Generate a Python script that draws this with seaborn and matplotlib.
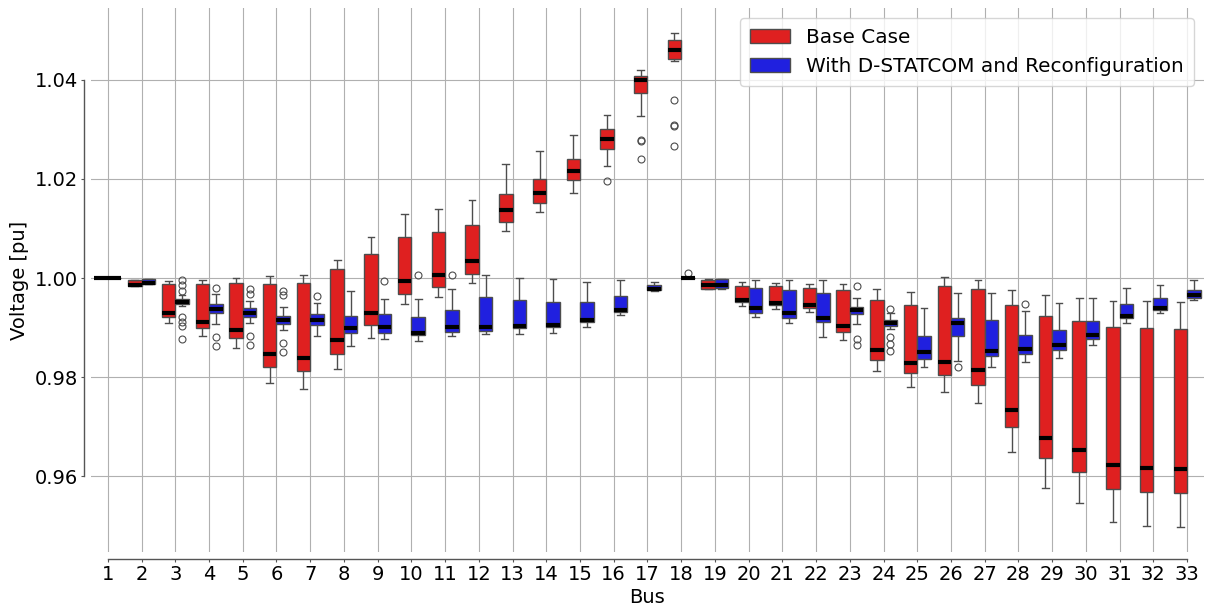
import numpy as np
import pandas as pd
import matplotlib
matplotlib.use("Agg")
import matplotlib.pyplot as plt
import seaborn as sns

buses = [str(b) for b in range(1, 34)]
cases = ["Base Case", "With D-STATCOM and Reconfiguration"]

# Five-number summaries per bus: lower whisker, Q1, median, Q3, upper whisker
base_lo = [1.0, 0.9983, 0.9909, 0.9883, 0.9859, 0.9788, 0.9777, 0.9816, 0.9878, 0.9947, 0.9961,
           0.9990, 1.0095, 1.0133, 1.0171, 1.0226, 1.0326, 1.0437, 0.9977, 0.9944, 0.9937, 0.9932,
           0.9875, 0.9813, 0.9781, 0.9771, 0.9748, 0.9648, 0.9576, 0.9545, 0.9507, 0.9499, 0.9497]
base_q1 = [1.0, 0.9983, 0.9921, 0.9899, 0.9879, 0.9820, 0.9812, 0.9847, 0.9905, 0.9968, 0.9981,
           1.0009, 1.0113, 1.0152, 1.0198, 1.0261, 1.0373, 1.0442, 0.9978, 0.9951, 0.9945, 0.9939,
           0.9891, 0.9835, 0.9808, 0.9804, 0.9785, 0.9699, 0.9636, 0.9608, 0.9575, 0.9569, 0.9566]
base_med = [1.0, 0.9986, 0.9930, 0.9912, 0.9896, 0.9846, 0.9838, 0.9874, 0.9930, 0.9994, 1.0007,
            1.0034, 1.0137, 1.0172, 1.0215, 1.0280, 1.0400, 1.0460, 0.9985, 0.9955, 0.9950, 0.9945,
            0.9903, 0.9854, 0.9829, 0.9831, 0.9814, 0.9734, 0.9678, 0.9652, 0.9623, 0.9616, 0.9614]
base_q3 = [1.0, 0.9997, 0.9987, 0.9987, 0.9990, 0.9988, 0.9990, 1.0019, 1.0048, 1.0083, 1.0093,
           1.0107, 1.0169, 1.0200, 1.0241, 1.0301, 1.0407, 1.0480, 0.9996, 0.9984, 0.9983, 0.9980,
           0.9975, 0.9955, 0.9946, 0.9984, 0.9977, 0.9946, 0.9923, 0.9914, 0.9901, 0.9899, 0.9897]
base_hi = [1.0, 0.9997, 0.9994, 0.9996, 1.0000, 1.0005, 1.0007, 1.0037, 1.0083, 1.0130, 1.0139,
           1.0158, 1.0230, 1.0256, 1.0288, 1.0328, 1.0419, 1.0495, 0.99975, 0.9991, 0.9990, 0.9988,
           0.9988, 0.9977, 0.9971, 1.0002, 0.9996, 0.9976, 0.9965, 0.9960, 0.9953, 0.9953, 0.9952]
base_out = {"16": [1.0196],
            "17": [1.0276, 1.0279, 1.0240],
            "18": [1.0360, 1.0307, 1.0309, 1.0266]}

comp_lo = [1.0, 0.9987, 0.9944, 0.9908, 0.9909, 0.9895, 0.9884, 0.9863, 0.9877, 0.9873, 0.9884,
           0.9887, 0.9888, 0.9890, 0.9901, 0.9925, 0.9974, 1.0, 0.9978, 0.9922, 0.9909, 0.9880,
           0.9908, 0.9897, 0.9820, 0.9832, 0.9821, 0.9830, 0.9838, 0.9864, 0.9910, 0.9929, 0.9956]
comp_q1 = [1.0, 0.9988, 0.9948, 0.9930, 0.9922, 0.9908, 0.9905, 0.9889, 0.9890, 0.9886, 0.9891,
           0.9893, 0.9899, 0.9902, 0.9911, 0.9932, 0.9975, 1.0, 0.9980, 0.9930, 0.9920, 0.9912,
           0.9928, 0.9903, 0.9836, 0.9883, 0.9842, 0.9847, 0.9854, 0.9876, 0.9919, 0.9936, 0.9959]
comp_med = [1.0, 0.9990, 0.9952, 0.9937, 0.9930, 0.9915, 0.9915, 0.9899, 0.9901, 0.9889, 0.9902,
            0.9901, 0.9904, 0.9906, 0.9915, 0.9936, 0.9978, 1.0, 0.9985, 0.9939, 0.9929, 0.9920,
            0.9935, 0.9910, 0.9850, 0.9910, 0.9853, 0.9857, 0.9864, 0.9886, 0.9924, 0.9940, 0.9965]
comp_q3 = [1.0, 0.9998, 0.9957, 0.9948, 0.9939, 0.9924, 0.9928, 0.9924, 0.9928, 0.9921, 0.9936,
           0.9961, 0.9956, 0.9952, 0.9952, 0.9964, 0.9985, 1.0, 0.9998, 0.9980, 0.9975, 0.9969,
           0.9942, 0.9916, 0.9883, 0.9920, 0.9916, 0.9886, 0.9896, 0.9914, 0.9948, 0.9960, 0.9976]
comp_hi = [1.0, 0.9999, 0.9965, 0.9968, 0.9953, 0.9941, 0.9950, 0.9973, 0.9958, 0.9957, 0.9977,
           1.0006, 1.0000, 0.9998, 0.9991, 0.9997, 0.9992, 1.0, 0.9999, 0.9996, 0.9996, 0.9997,
           0.9959, 0.9930, 0.9940, 0.9970, 0.9970, 0.9934, 0.9949, 0.9960, 0.9979, 0.9986, 0.9996]
comp_out = {"3": [0.9997, 0.9986, 0.9974, 0.9921, 0.9912, 0.9904, 0.9876],
            "4": [0.9980, 0.9881, 0.9862],
            "5": [0.9978, 0.9968, 0.9883, 0.9864],
            "6": [0.9973, 0.9966, 0.9868, 0.9850],
            "7": [0.9964],
            "9": [0.9993],
            "10": [1.0006],
            "11": [1.0007],
            "18": [1.0010],
            "23": [0.9984, 0.9877, 0.9865],
            "24": [0.9938, 0.9881, 0.9866, 0.9853],
            "26": [0.9820],
            "28": [0.9948]}


def expand(lo, q1, med, q3, hi, extra):
    """Voltage samples whose quartiles and whisker ends equal the given summary."""
    below = sorted([v for v in extra if v < q1]) + [lo]
    above = [hi] + sorted([v for v in extra if v > q3])
    k = max(len(below), len(above))
    vals = (below + [q1] * (k - len(below)) + [q1] + [q1] * (k - 1) + [med]
            + [q3] * (k - 1) + [q3] + [q3] * (k - len(above)) + above)
    return vals


rows = []
for case, lo, q1, md, q3, hi, out in [
        (cases[0], base_lo, base_q1, base_med, base_q3, base_hi, base_out),
        (cases[1], comp_lo, comp_q1, comp_med, comp_q3, comp_hi, comp_out)]:
    for i, bus in enumerate(buses):
        for v in expand(lo[i], q1[i], md[i], q3[i], hi[i], out.get(bus, [])):
            rows.append((bus, case, v))
df = pd.DataFrame(rows, columns=["Bus", "Case", "Voltage"])

fig = plt.figure(figsize=(12.1, 6.07), dpi=100)
ax = fig.add_axes([0.0752, 0.0906, 0.9198, 0.8962])

sns.boxplot(data=df, x="Bus", y="Voltage", hue="Case", order=buses, hue_order=cases,
            palette=["red", "blue"], width=0.8, linewidth=1.0,
            medianprops=dict(color="black", linewidth=3),
            flierprops=dict(marker="o", markerfacecolor="none", markeredgecolor="#4c4c4c",
                            markersize=5, markeredgewidth=0.8),
            ax=ax)

# grid on both axes, kept behind the boxes
ax.set_axisbelow(True)
ax.grid(True, which="major", axis="both", color="#b0b0b0", linewidth=0.8)

ax.set_yticks([0.96, 0.98, 1.00, 1.02, 1.04])
ax.set_yticklabels(["0.96", "0.98", "1.00", "1.02", "1.04"])
ax.tick_params(labelsize=14, length=2.5, pad=2)
ax.set_xlabel("Bus", fontsize=14, labelpad=2.5)
ax.set_ylabel("Voltage [pu]", fontsize=14, labelpad=4)

handles, labels = ax.get_legend_handles_labels()
ax.legend(handles, labels, loc="upper right", fontsize=14.4, title=None, borderpad=0.5)

sns.despine(ax=ax, offset=5, trim=True)
ax.spines["left"].set_visible(True)
ax.spines["left"].set_bounds(0.96, 1.04)
ax.spines["bottom"].set_bounds(0, len(buses) - 1)
for side in ("left", "bottom"):
    ax.spines[side].set_color("#555555")
    ax.spines[side].set_linewidth(1.0)
ax.tick_params(colors="#555555", labelcolor="black")

fig.savefig("out.png", dpi=100)
